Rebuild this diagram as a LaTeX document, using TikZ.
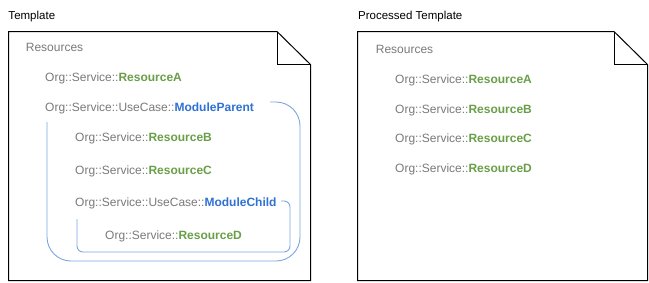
\documentclass[tikz,border=0pt]{standalone}
\usepackage{fontspec}
\setmainfont{Liberation Sans}
\definecolor{txtgray}{HTML}{7A7A7A}
\definecolor{resgreen}{HTML}{6A9F48}
\definecolor{modblue}{HTML}{2F72D4}
\definecolor{brblue}{HTML}{7EA6E0}
\begin{document}
\begin{tikzpicture}[x=1pt,y=-1pt,
  lbl/.style={anchor=base west,inner sep=0pt,font=\fontsize{11.5}{14}\selectfont,text=black},
  itm/.style={anchor=base west,inner sep=0pt,font=\fontsize{12}{14}\selectfont,text=txtgray},
  doc/.style={draw=black,line width=1pt,fill=white},
  brk/.style={draw=brblue,line width=0.9pt}]
\useasboundingbox (0,0) rectangle (649,282);
% left document
\path[doc] (8.5,31.5) -- (277,31.5) -- (310.5,64.5) -- (310.5,280.5) -- (8.5,280.5) -- cycle;
\draw[line width=1pt] (277,31.5) -- (277,64.5) -- (310.5,64.5);
% right document
\path[doc] (357.5,31.5) -- (614,31.5) -- (647.5,64.5) -- (647.5,280.5) -- (357.5,280.5) -- cycle;
\draw[line width=1pt] (614,31.5) -- (614,64.5) -- (647.5,64.5);
% titles
\node[lbl] (t1) at (8.3,19.7) {Template};
\node[lbl] (t2) at (358,19.7) {Processed Template};
% left texts
\node[itm] (lres) at (25.7,51.7) {Resources};
\node[itm] (la) at (45,81.7) {Org::Service::\textbf{\color{resgreen}ResourceA}};
\node[itm] (lmp) at (45,111.7) {Org::Service::UseCase::\textbf{\color{modblue}ModuleParent}};
\node[itm] (lb) at (75,141.7) {Org::Service::\textbf{\color{resgreen}ResourceB}};
\node[itm] (lc) at (75,174) {Org::Service::\textbf{\color{resgreen}ResourceC}};
\node[itm] (lmc) at (75,206.7) {Org::Service::UseCase::\textbf{\color{modblue}ModuleChild}};
\node[itm] (ld) at (105,239.3) {Org::Service::\textbf{\color{resgreen}ResourceD}};
% brackets
\coordinate (p1) at (270,102);
\coordinate (p2) at (47,122);
\draw[brk,rounded corners=24] (p1) -- (300,102) -- (300,261) -- (47,261) -- (p2);
\coordinate (c1) at (281,201);
\coordinate (c2) at (77,219);
\draw[brk,rounded corners=6] (c1) -- (290,201) -- (290,252) -- (77,252) -- (c2);
% right texts
\node[itm] (rres) at (375.7,53.3) {Resources};
\node[itm] (ra) at (395,83.3) {Org::Service::\textbf{\color{resgreen}ResourceA}};
\node[itm] (rb) at (395,113.3) {Org::Service::\textbf{\color{resgreen}ResourceB}};
\node[itm] (rc) at (395,142.7) {Org::Service::\textbf{\color{resgreen}ResourceC}};
\node[itm] (rd) at (395,172.7) {Org::Service::\textbf{\color{resgreen}ResourceD}};
\end{tikzpicture}
\end{document}
